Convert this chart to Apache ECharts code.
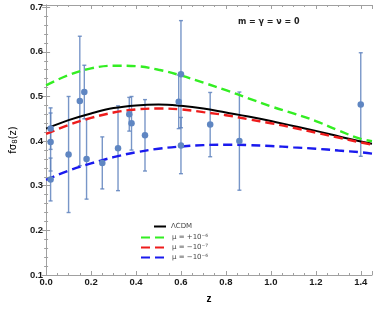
<!DOCTYPE html>
<html><head><meta charset="utf-8">
<script src="https://cdn.jsdelivr.net/npm/echarts@6/dist/echarts.min.js"></script>
<style>html,body{margin:0;padding:0;background:#fff}#c{width:374px;height:309px}</style>
</head><body><div id="c"></div>
<script>
// Curve samples
const zGrid = [0, 0.1, 0.2, 0.3, 0.4, 0.5, 0.6, 0.7, 0.8, 0.9, 1.0, 1.1, 1.2, 1.3, 1.4, 1.45];
const lcdm   = [0.428,0.447,0.462,0.474,0.480,0.482,0.479,0.473,0.464,0.455,0.445,0.434,0.423,0.411,0.399,0.394];
const muPlus6  = [0.525,0.548,0.563,0.569,0.568,0.560,0.547,0.531,0.514,0.496,0.478,0.462,0.445,0.424,0.405,0.400];
const muMinus7 = [0.416,0.436,0.452,0.464,0.471,0.473,0.471,0.465,0.458,0.449,0.440,0.430,0.419,0.408,0.397,0.392];
const muMinus6 = [0.313,0.334,0.350,0.364,0.375,0.383,0.388,0.391,0.392,0.391,0.389,0.386,0.383,0.379,0.375,0.372];

// Data points
const dataZ   = [0.02, 0.02, 0.02, 0.10, 0.15, 0.17, 0.18, 0.38, 0.25, 0.37, 0.32, 0.59, 0.44, 0.60, 0.73, 0.60, 0.86, 1.40];
const dataF   = [0.428,0.398,0.314,0.370,0.490,0.510,0.360,0.440,0.3512,0.4602,0.384,0.488,0.413,0.390,0.437,0.550,0.400,0.482];
const dataErr = [0.0465,0.065,0.048,0.130,0.145,0.060,0.090,0.060,0.0583,0.0378,0.095,0.060,0.080,0.063,0.072,0.120,0.110,0.116];

const xTicks = ['0.0','0.2','0.4','0.6','0.8','1.0','1.2','1.4'];
const yTicks = ['0.1','0.2','0.3','0.4','0.5','0.6','0.7'];

const pts = dataZ.map((z,i)=>[z, dataF[i]]);
const errs = dataZ.map((z,i)=>[z, dataF[i]-dataErr[i], dataF[i]+dataErr[i]]);
const curve = arr => zGrid.map((z,i)=>[z, arr[i]]);

const chart = echarts.init(document.getElementById('c'), null, {renderer:'canvas'});
const axisCol = '#a0a0a0';
const lblStyle = {color:'#1a1a1a', fontWeight:'bold', fontSize:9.5, fontFamily:'Liberation Sans, Arial, sans-serif'};
const baseX = {
  type:'value', min:0, max:1.45, interval:0.2,
  axisLine:{show:true, lineStyle:{color:axisCol, width:1}},
  axisTick:{show:true, inside:true, length:4, lineStyle:{color:axisCol}},
  minorTick:{show:true, splitNumber:4, length:2, lineStyle:{color:axisCol}},
  splitLine:{show:false}
};
const baseY = {
  type:'value', min:0.1, max:0.705, interval:0.1,
  axisLine:{show:true, lineStyle:{color:axisCol, width:1}},
  axisTick:{show:true, inside:true, length:4, lineStyle:{color:axisCol}},
  minorTick:{show:true, splitNumber:5, length:2, lineStyle:{color:axisCol}},
  splitLine:{show:false}
};
const dashed = (name, color, arr) => ({
  name, type:'line', data:curve(arr), smooth:0.4, symbol:'none', z:3,
  lineStyle:{color, width:2.4, type:[9,5]}, itemStyle:{color}
});
const legText = {color:'#444', fontSize:7, fontFamily:'DejaVu Sans, sans-serif'};

chart.setOption({
  animation:false,
  grid:{left:32, right:2, top:5, bottom:31},
  xAxis:[
    Object.assign({}, baseX, {position:'bottom',
      name:'z', nameLocation:'middle', nameGap:19,
      nameTextStyle:{color:'#000', fontWeight:'bold', fontSize:10, fontFamily:'Liberation Sans, Arial, sans-serif'},
      axisLabel:Object.assign({margin:2, formatter:v=>xTicks[Math.round(v/0.2)]||''}, lblStyle)}),
    Object.assign({}, baseX, {position:'top', axisLabel:{show:false}})
  ],
  yAxis:[
    Object.assign({}, baseY, {position:'left',
      name:'{a|fσ}{s|8}{a|(z)}', nameLocation:'middle', nameGap:21, nameRotate:90,
      nameTextStyle:{rich:{
        a:{color:'#000', fontSize:10, fontFamily:'DejaVu Sans, sans-serif'},
        s:{color:'#000', fontSize:7, fontFamily:'DejaVu Sans, sans-serif', padding:[5,0,0,0]}
      }},
      axisLabel:Object.assign({margin:3, formatter:v=>{const i=Math.round((v-0.1)/0.1);return Math.abs(v-(0.1+i*0.1))<1e-6?(yTicks[i]||''):'';}}, lblStyle)}),
    Object.assign({}, baseY, {position:'right', axisLabel:{show:false}})
  ],
  legend:[
    {data:['ΛCDM'], left:148, top:218, orient:'vertical', itemWidth:12, itemHeight:8, itemGap:3,
     itemStyle:{opacity:0}, textStyle:legText},
    {data:['μ = +10⁻⁶','μ = −10⁻⁷','μ = −10⁻⁶'], left:135, top:229, orient:'vertical', itemWidth:26, itemHeight:8, itemGap:3,
     itemStyle:{opacity:0}, textStyle:legText}
  ],
  graphic:[{type:'text', left:238, top:18,
    style:{text:'m = γ = ν = 0', fill:'#222', font:'bold 8px DejaVu Sans, sans-serif'}}],
  series:[
    {name:'errors', type:'custom', data:errs, z:2, silent:true,
     renderItem:(params, api)=>{
       const x = api.value(0);
       const lo = api.coord([x, api.value(1)]);
       const hi = api.coord([x, api.value(2)]);
       const c = 'rgba(96,132,190,0.85)';
       const st = {stroke:c, lineWidth:1.4};
       return {type:'group', children:[
         {type:'line', shape:{x1:lo[0], y1:lo[1], x2:hi[0], y2:hi[1]}, style:st},
         {type:'line', shape:{x1:lo[0]-2, y1:lo[1], x2:lo[0]+2, y2:lo[1]}, style:st},
         {type:'line', shape:{x1:hi[0]-2, y1:hi[1], x2:hi[0]+2, y2:hi[1]}, style:st}
       ]};
     }},
    {name:'points', type:'scatter', data:pts, symbol:'circle', symbolSize:6.5, z:4,
     itemStyle:{color:'#5f86c2', opacity:1}},
    {name:'ΛCDM', type:'line', data:curve(lcdm), smooth:0.4, symbol:'none', z:3,
     lineStyle:{color:'#000', width:2}, itemStyle:{color:'#000'}},
    dashed('μ = +10⁻⁶', '#33ee22', muPlus6),
    dashed('μ = −10⁻⁷', '#ee1c1c', muMinus7),
    dashed('μ = −10⁻⁶', '#1a1aee', muMinus6)
  ]
});
</script></body></html>
